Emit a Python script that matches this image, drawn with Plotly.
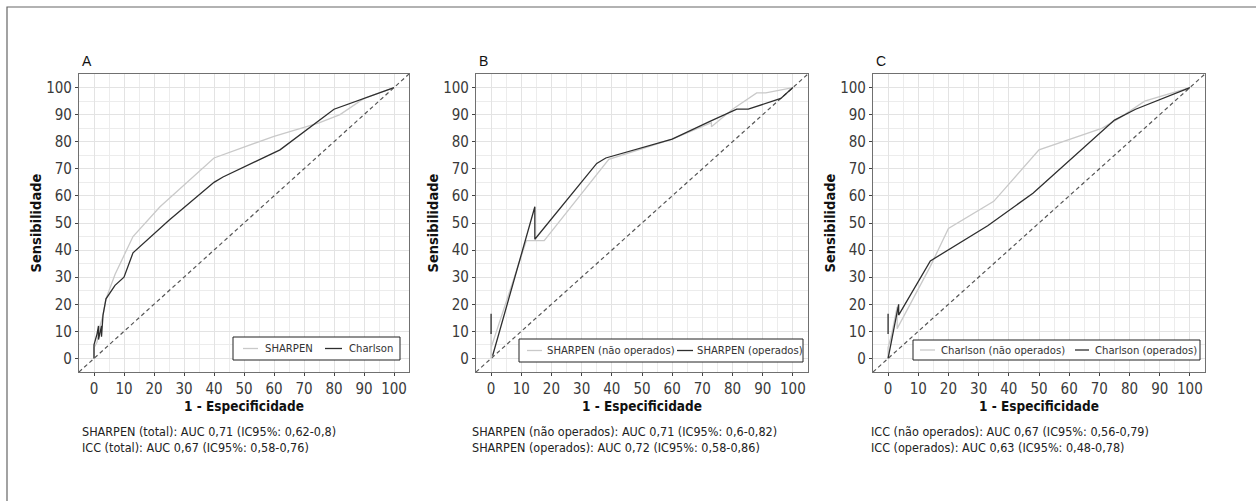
import plotly.graph_objects as go

# ---------------- data (1 - especificidade, sensibilidade, in %) ----------------
# Panel A
a_sharpen_x = [0, 0, 1, 2, 3, 4, 7, 13, 22, 40, 60, 75, 82, 90, 100]
a_sharpen_y = [0, 4, 6, 12, 16, 22, 31, 45, 56, 74, 82, 87, 90, 96, 100]
a_charlson_x = [0, 0, 1, 1.5, 1.5, 2, 2.5, 2.5, 3, 4, 7, 10, 13, 25, 40, 43, 62, 80, 90, 100]
a_charlson_y = [0, 5, 9, 12, 7, 10, 12, 8, 16, 22, 27, 30, 39, 51, 65, 67, 77, 92, 96, 100]

# Panel B
b_nop_x = [0, 0, 0, 11.7, 17.6, 39, 60, 73, 73, 80, 88, 91, 100]
b_nop_y = [0, 10, 4, 43.5, 43.5, 73.5, 81, 87, 85.5, 92, 98, 98, 100]
b_op_x = [0, 0, None, 0.5, 14.5, 14.5, 35, 38, 60, 72.5, 81.4, 85.2, 96, 100]
b_op_y = [16.5, 9, None, 1, 56, 44, 72, 74, 81, 87.5, 92, 92, 96, 100]

# Panel C
c_nop_x = [0, 0, 1, 3, 3, 14, 20, 35, 50, 71, 77, 85, 100]
c_nop_y = [0, 4, 8, 19, 11, 34, 48, 58, 77, 85, 89, 95, 100]
c_op_x = [0, 0, None, 0, 2.5, 3, 3.5, 3.5, 14, 33, 48, 75, 82, 100]
c_op_y = [16.5, 9, None, 0, 14, 17, 20, 16, 36, 49, 61, 88, 92, 100]

diag = [-5, 105]
tick_vals = [0, 10, 20, 30, 40, 50, 60, 70, 80, 90, 100]

panel_letters = ["A", "B", "C"]
legend_names = [("SHARPEN", "Charlson"),
                ("SHARPEN (não operados)", "SHARPEN (operados)"),
                ("Charlson (não operados)", "Charlson (operados)")]
auc_texts = [
    ("SHARPEN (total): AUC 0,71 (IC95%: 0,62-0,8)", "ICC (total): AUC 0,67 (IC95%: 0,58-0,76)"),
    ("SHARPEN (não operados): AUC 0,71 (IC95%: 0,6-0,82)", "SHARPEN (operados): AUC 0,72 (IC95%: 0,58-0,86)"),
    ("ICC (não operados): AUC 0,67 (IC95%: 0,56-0,79)", "ICC (operados): AUC 0,63 (IC95%: 0,48-0,78)"),
]

series = [
    ((a_sharpen_x, a_sharpen_y), (a_charlson_x, a_charlson_y)),
    ((b_nop_x, b_nop_y), (b_op_x, b_op_y)),
    ((c_nop_x, c_nop_y), (c_op_x, c_op_y)),
]

# ---------------- styling / layout (pixel positions) ----------------
W, H = 1256, 501
NARROW = "DejaVu Sans Condensed, Liberation Sans Narrow, Arial Narrow, Liberation Sans, Arial, sans-serif"
REG = "Liberation Sans, Arial, sans-serif"
LIGHT = "#c9c9c9"
DARK = "#2e2e2e"

x_domains_px = [(79, 409), (476, 808), (873, 1205)]
y_top_px, y_bot_px = 74, 372
text_left_px = [80, 470, 869]
# legend box: (left, right, top, bottom), sample1 (x0,x1), sample2 (x0,x1), text1 x, text2 x
legend_box_px = [(233, 400, 337, 360), (519, 803, 339, 362), (913, 1200, 340, 360)]
legend_s1_px = [(243, 258), (527, 542), (920, 935)]
legend_s2_px = [(325, 342), (677, 693), (1075, 1089)]
legend_t1_px = [263, 545, 939]
legend_t2_px = [347, 695, 1093]


def px(x):
    return x / W


def py(y):
    return 1 - y / H


fig = go.Figure()

for i in range(3):
    ax = "" if i == 0 else str(i + 1)
    xref, yref = "x" + ax, "y" + ax
    fig.add_trace(go.Scatter(x=diag, y=diag, mode="lines", xaxis=xref, yaxis=yref,
                             line=dict(color="#555555", width=1.2, dash="4px,3px"),
                             showlegend=False, hoverinfo="skip"))
    (lx, ly), (dx, dy) = series[i]
    n1, n2 = legend_names[i]
    fig.add_trace(go.Scatter(x=lx, y=ly, mode="lines", name=n1, xaxis=xref, yaxis=yref,
                             line=dict(color=LIGHT, width=1.3), showlegend=False))
    fig.add_trace(go.Scatter(x=dx, y=dy, mode="lines", name=n2, xaxis=xref, yaxis=yref,
                             line=dict(color=DARK, width=1.3), showlegend=False))

    axis_common = dict(
        range=[-5, 105], tickmode="array", tickvals=tick_vals,
        ticks="outside", ticklen=3, tickcolor="#444", tickwidth=1,
        tickfont=dict(family=NARROW, size=15, color="#3a3a3a"),
        showgrid=True, gridcolor="#e3e3e3", gridwidth=1,
        minor=dict(dtick=5, showgrid=True, gridcolor="#ececec", gridwidth=1, ticks=""),
        showline=True, mirror=True, linecolor="#707070", linewidth=1.2,
        zeroline=False, fixedrange=True,
    )
    x0, x1 = x_domains_px[i]
    fig.layout["xaxis" + ax] = dict(
        axis_common, domain=[px(x0), px(x1)], anchor=yref,
        title=dict(text="<b>1 - Especificidade</b>", standoff=3,
                   font=dict(family=NARROW, size=13.5, color="#111")),
    )
    fig.layout["yaxis" + ax] = dict(
        axis_common, domain=[py(y_bot_px), py(y_top_px)], anchor=xref,
        title=dict(text="<b>Sensibilidade</b>", standoff=1,
                   font=dict(family=NARROW, size=14.5, color="#111")),
    )

    # legend (drawn as a boxed key in the lower right of each panel)
    bl, br, bt, bb = legend_box_px[i]
    fig.add_shape(type="rect", xref="paper", yref="paper",
                  x0=px(bl), x1=px(br), y0=py(bb), y1=py(bt),
                  line=dict(color="#222", width=1), fillcolor="white", layer="above")
    cy = py((bt + bb) / 2)
    for (s0, s1), col in ((legend_s1_px[i], LIGHT), (legend_s2_px[i], DARK)):
        fig.add_shape(type="line", xref="paper", yref="paper",
                      x0=px(s0), x1=px(s1), y0=cy, y1=cy,
                      line=dict(color=col, width=1.3), layer="above")
    for tx, name in ((legend_t1_px[i], n1), (legend_t2_px[i], n2)):
        fig.add_annotation(text=name, xref="paper", yref="paper", x=px(tx), y=cy,
                           xanchor="left", yanchor="middle", showarrow=False,
                           font=dict(family=NARROW, size=11.2, color="#333"))

    fig.add_annotation(text=panel_letters[i], xref="paper", yref="paper",
                       x=px(x0 + 1), y=py(61), xanchor="left", yanchor="middle",
                       showarrow=False, font=dict(family=REG, size=14, color="#111"))
    t1, t2 = auc_texts[i]
    fig.add_annotation(text=t1 + "<br>" + t2, xref="paper", yref="paper",
                       x=px(text_left_px[i]), y=py(439.5), xanchor="left", yanchor="middle",
                       align="left", showarrow=False,
                       font=dict(family=NARROW, size=12.5, color="#222"))

fig.add_shape(type="rect", xref="paper", yref="paper",
              x0=px(7), x1=1.02, y0=-0.02, y1=py(7),
              line=dict(color="#666", width=1.2), fillcolor="rgba(0,0,0,0)", layer="below")

fig.update_layout(
    width=W, height=H, margin=dict(l=0, r=0, t=0, b=0),
    paper_bgcolor="white", plot_bgcolor="white",
    font=dict(family=NARROW, color="#333"), showlegend=False,
)

fig.write_html("out.html", config={"displayModeBar": False},
               post_script="document.body.style.margin='0px';document.body.style.overflow='hidden';")
